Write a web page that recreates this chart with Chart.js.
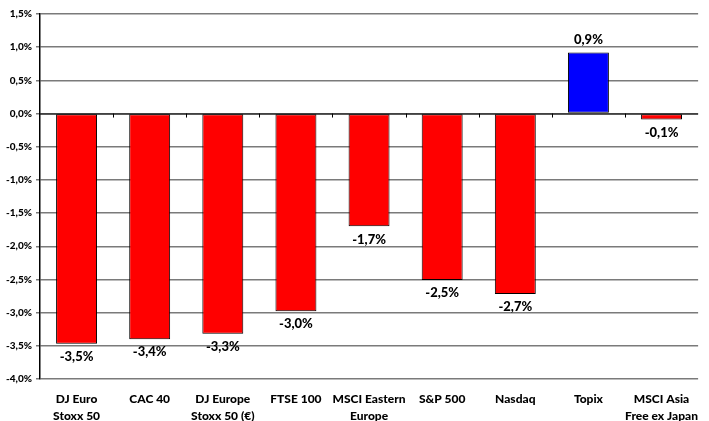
<!DOCTYPE html>
<html>
<head>
<meta charset="utf-8">
<script src="https://cdn.jsdelivr.net/npm/chart.js@4/dist/chart.umd.min.js"></script>
<style>
  html, body { margin: 0; padding: 0; background: #fff; overflow: hidden; }
  #wrap { width: 709px; height: 430px; }
</style>
</head>
<body>
<div id="wrap"><canvas id="chart"></canvas></div>
<script>
const categories = [
  ["DJ Euro", "Stoxx 50"], "CAC 40", ["DJ Europe", "Stoxx 50 (€)"], "FTSE 100",
  ["MSCI Eastern", "Europe"], "S&P 500", "Nasdaq", "Topix", ["MSCI Asia", "Free ex Japan"]
];
const values = [-3.47, -3.40, -3.32, -2.98, -1.70, -2.51, -2.72, 0.92, -0.09];
const labels = ["-3,5%", "-3,4%", "-3,3%", "-3,0%", "-1,7%", "-2,5%", "-2,7%", "0,9%", "-0,1%"];
const yMin = -4.0, yMax = 1.5, yStep = 0.5;

const fontFam = "Lato, 'DejaVu Sans', sans-serif";

// labels under/over the bars
const valueLabels = {
  id: "valueLabels",
  afterDatasetsDraw(chart) {
    const ctx = chart.ctx;
    const meta = chart.getDatasetMeta(0);
    ctx.save();
    ctx.font = "900 13px " + fontFam;
    ctx.fillStyle = "#000";
    ctx.textAlign = "center";
    ctx.textBaseline = "middle";
    meta.data.forEach((bar, i) => {
      const y = values[i] < 0 ? bar.y + 13 : bar.y - 13;
      ctx.fillText(labels[i], bar.x, y);
    });
    ctx.restore();
  }
};

// small ticks between categories hanging under the zero line
const zeroTicks = {
  id: "zeroTicks",
  afterDatasetsDraw(chart) {
    const ctx = chart.ctx;
    const x = chart.scales.x, y = chart.scales.y;
    const y0 = y.getPixelForValue(0);
    const step = (x.right - x.left) / categories.length;
    ctx.save();
    ctx.strokeStyle = "#000";
    ctx.lineWidth = 1;
    ctx.beginPath();
    for (let i = 1; i < categories.length; i++) {
      const px = Math.round(x.left + step * i) + 0.5;
      ctx.moveTo(px, y0);
      ctx.lineTo(px, y0 + 4);
    }
    ctx.moveTo(x.left, y0 + 0.5);
    ctx.lineTo(x.right, y0 + 0.5);
    ctx.stroke();
    ctx.restore();
  }
};

new Chart(document.getElementById("chart"), {
  type: "bar",
  data: {
    labels: categories,
    datasets: [{
      data: values,
      backgroundColor: values.map(v => v >= 0 ? "#0000ff" : "#ff0000"),
      borderColor: "#000",
      borderWidth: 1,
      borderSkipped: false,
      categoryPercentage: 1,
      barPercentage: 0.56
    }]
  },
  options: {
    responsive: true,
    maintainAspectRatio: false,
    animation: false,
    layout: { padding: { top: 14, right: 0, left: 0, bottom: 0 } },
    plugins: { legend: { display: false }, tooltip: { enabled: false } },
    scales: {
      x: {
        grid: { display: false, drawTicks: false, tickLength: 0 },
        border: { display: false },
        ticks: {
          color: "#000",
          font: { family: fontFam, size: 12, weight: "900", lineHeight: 1.45 },
          maxRotation: 0,
          autoSkip: false,
          padding: 11
        },
        afterFit(scale) { scale.height = 51; }
      },
      y: {
        min: yMin,
        max: yMax,
        border: { display: true, color: "#000", width: 1.5 },
        grid: {
          color: "#7a7a7a",
          lineWidth: 1.5,
          tickLength: 4,
          drawTicks: true
        },
        ticks: {
          stepSize: yStep,
          color: "#000",
          padding: 4,
          font: { family: fontFam, size: 10, weight: "900" },
          callback: v => v.toFixed(1).replace(".", ",") + "%"
        },
        afterFit(scale) { scale.width = 40; }
      }
    }
  },
  plugins: [valueLabels, zeroTicks]
});
</script>
</body>
</html>
